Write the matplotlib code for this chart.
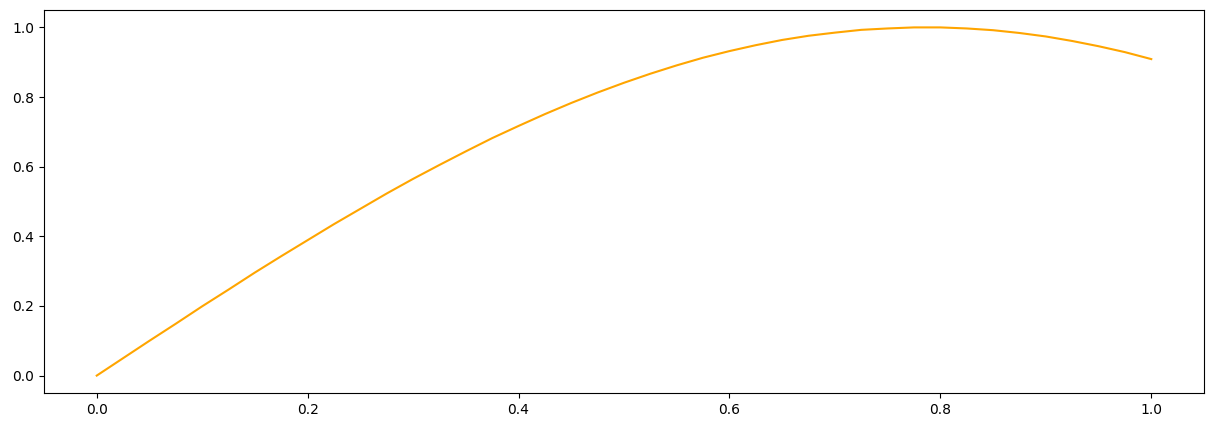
import matplotlib
matplotlib.use("Agg")
import matplotlib.pyplot as plt

x_vals = [0.0, 0.025, 0.05, 0.075, 0.1, 0.125, 0.15, 0.175, 0.2, 0.225,
          0.25, 0.275, 0.3, 0.325, 0.35, 0.375, 0.4, 0.425, 0.45, 0.475,
          0.5, 0.525, 0.55, 0.575, 0.6, 0.625, 0.65, 0.675, 0.7, 0.725,
          0.75, 0.775, 0.8, 0.825, 0.85, 0.875, 0.9, 0.925, 0.95, 0.975, 1.0]
y_vals = [0.0, 0.050, 0.100, 0.149, 0.199, 0.247, 0.296, 0.343, 0.389, 0.435,
          0.479, 0.523, 0.565, 0.605, 0.644, 0.682, 0.717, 0.751, 0.783, 0.813,
          0.841, 0.867, 0.891, 0.913, 0.932, 0.949, 0.964, 0.976, 0.985, 0.993,
          0.997, 1.000, 1.000, 0.997, 0.992, 0.984, 0.974, 0.961, 0.946, 0.929, 0.909]

fig = plt.figure(figsize=(12.14, 4.28), dpi=100)
ax = fig.add_axes([44/1214, 1 - 393/428, (1204 - 44)/1214, (393 - 10)/428])
ax.plot(x_vals, y_vals, color="orange", linewidth=1.5)
ax.set_xticks([0.0, 0.2, 0.4, 0.6, 0.8, 1.0])
ax.set_yticks([0.0, 0.2, 0.4, 0.6, 0.8, 1.0])
fig.savefig("out.png", dpi=100)
